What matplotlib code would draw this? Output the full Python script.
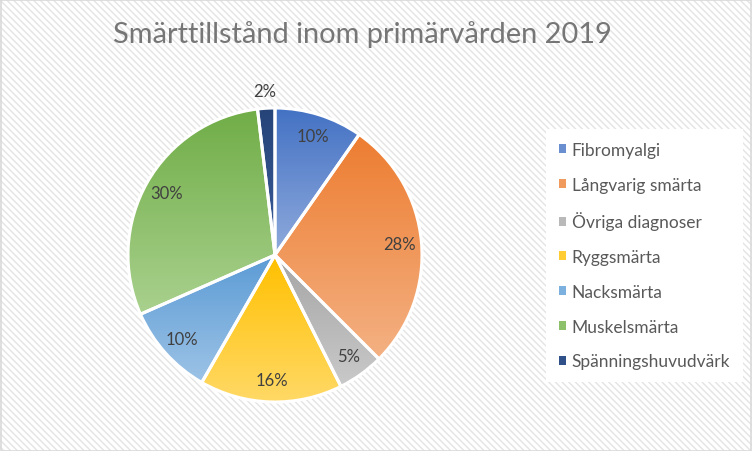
import numpy as np
import matplotlib
matplotlib.use("Agg")
import matplotlib.pyplot as plt
from matplotlib.patches import Rectangle, Patch
from matplotlib.colors import to_rgb

plt.rcParams['font.family'] = ['Lato', 'DejaVu Sans']
plt.rcParams['hatch.linewidth'] = 1.0

title = "Smärttillstånd inom primärvården 2019"
labels = ["Fibromyalgi", "Långvarig smärta", "Övriga diagnoser", "Ryggsmärta",
          "Nacksmärta", "Muskelsmärta", "Spänningshuvudvärk"]
values = [9.7, 27.8, 5.1, 15.7, 10.1, 29.7, 1.9]
top_colors = ["#4472C4", "#ED7D31", "#A5A5A5", "#FFC000", "#5B9BD5", "#70AD47", "#264478"]
bottom_colors = ["#8FAADC", "#F4B183", "#C9C9C9", "#FFD966", "#9DC3E6", "#A9D18E", "#3B5C9B"]
legend_colors = ["#6A8FD0", "#F19A5E", "#B9B9B9", "#FFCC33", "#7CB0DE", "#8DC06B", "#30508A"]

W, H = 752, 452
fig = plt.figure(figsize=(W / 100, H / 100), dpi=100)
fig.patch.set_facecolor("white")

# hatched chart-area background + border
bg = Rectangle((0, 0), 1, 1, transform=fig.transFigure, facecolor="white",
               edgecolor="#e4e4e4", hatch="\\" * 5, linewidth=0, zorder=-10)
fig.add_artist(bg)
border = Rectangle((0.5 / W, 0.5 / H), 1 - 1.5 / W, 1 - 1.5 / H, transform=fig.transFigure,
                   facecolor="none", edgecolor="#d9d9d9", linewidth=1.2, zorder=10)
fig.add_artist(border)

# pie axes: centre (275,256) px, radius 147 px
cx, cy, r = 275, 256, 147
ax = fig.add_axes([(cx - r) / W, (H - cy - r) / H, 2 * r / W, 2 * r / H])
ax.set_facecolor("none")
ax.axis("off")

total = sum(values)
wedges, _ = ax.pie(values, startangle=90, counterclock=False, radius=1,
                   colors=["none"] * len(values),
                   wedgeprops=dict(edgecolor="white", linewidth=2.2, zorder=3))

# vertical gradient fill per slice
for w, c0, c1 in zip(wedges, top_colors, bottom_colors):
    ext = w.get_path().get_extents()
    t = np.linspace(0, 1, 100)[:, None]
    a, b = np.array(to_rgb(c1)), np.array(to_rgb(c0))
    grad = (a[None, :] * (1 - t) + b[None, :] * t)[:, None, :]
    im = ax.imshow(grad, extent=[ext.x0, ext.x1, ext.y0, ext.y1], origin="lower",
                   aspect="auto", zorder=2, interpolation="bilinear")
    im.set_clip_path(w)
ax.set_xlim(-1.0, 1.0)
ax.set_ylim(-1.0, 1.0)

# percentage labels
for w, v in zip(wedges, values):
    ang = np.deg2rad((w.theta1 + w.theta2) / 2)
    d = 0.85 if v / total > 0.03 else 1.12
    ax.text(d * np.cos(ang), d * np.sin(ang), f"{v / total * 100:.0f}%",
            ha="center", va="center", fontsize=12, color="#404040", zorder=5)

fig.text(362 / W, 1 - 43 / H, title, ha="center", va="baseline",
         fontsize=20.9, color="#767676")

handles = [Patch(facecolor=c, edgecolor="none") for c in legend_colors]
leg = fig.legend(handles, labels, loc="upper left",
                 bbox_to_anchor=(546 / W, 1 - 130 / H), frameon=True, fancybox=False,
                 fontsize=12.5, labelspacing=1.08, handlelength=0.42, handleheight=0.42,
                 handletextpad=0.3, borderpad=0.75, borderaxespad=0)
leg.get_frame().set_facecolor("white")
leg.get_frame().set_edgecolor("none")
leg.get_frame().set_alpha(1)
for t in leg.get_texts():
    t.set_color("#595959")

fig.savefig("out.png", dpi=100)
